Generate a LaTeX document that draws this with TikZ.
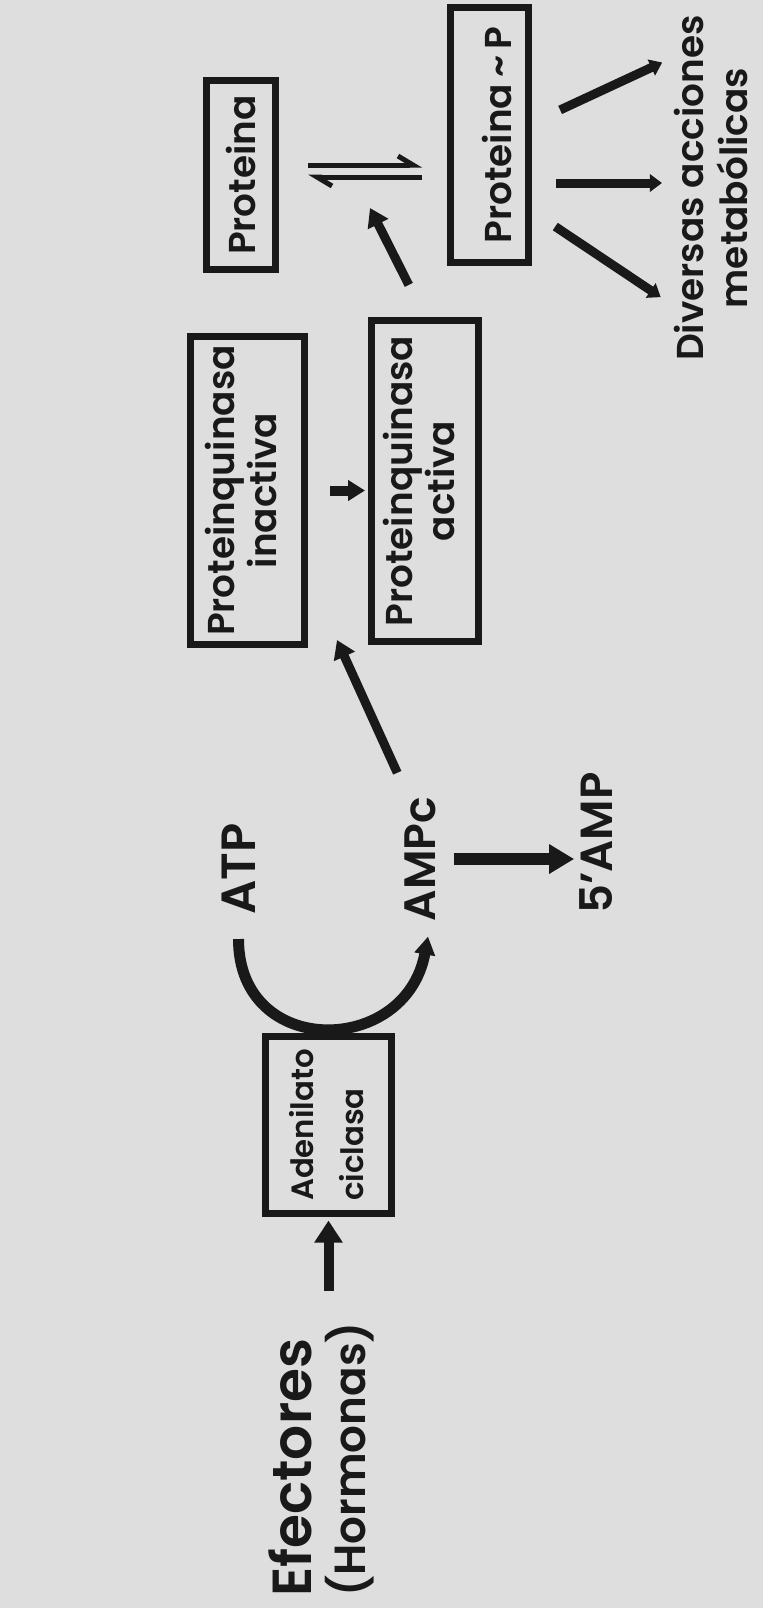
\documentclass[tikz,border=0pt]{standalone}
\usepackage{fontspec}
\setmainfont{Poppins SemiBold}
\usepackage{graphicx}
\usepackage{tikz}
\usetikzlibrary{arrows.meta,calc}
\definecolor{papel}{gray}{0.87}
\definecolor{tinta}{gray}{0.1}

\begin{document}
\begin{tikzpicture}[x=0.5pt, y=-0.5pt,
  caja/.style={draw=tinta, line width=3.5pt, inner sep=0pt, text=tinta},
  rotulo/.style={inner sep=0pt, text=tinta},
  arpon/.style={draw=tinta, line width=2.5pt, -{Straight Barb[left, length=7.5pt, width=9pt]}},
  gruesa/.style={draw=tinta, line width=4.5pt, -{Triangle[length=9pt, width=11pt]}},
  fina/.style={draw=tinta, line width=4.5pt, -{Triangle[length=6pt, width=8.5pt]}}]
\fill[papel] (0,0) rectangle (763,1608);
\useasboundingbox (0,0) rectangle (763,1608);

\node[caja, minimum width=34.5pt, minimum height=94.5pt, font=\fontsize{18.7}{21}\selectfont] (prot) at (241,175) {\rotatebox{90}{Proteina}};
\node[caja, minimum width=39pt, minimum height=127.5pt, font=\fontsize{18.7}{21}\selectfont] (protp) at (489.5,135) {\rotatebox{90}{\raisebox{-3.75pt}[\height][\depth]{Proteina\,\textasciitilde\,P}}};
\node[rotulo, font=\fontsize{18.7}{21}\selectfont] (div) at (717,188) {\rotatebox{90}{\begin{tabular}{@{}c@{}}Diversas acciones\\metabólicas\end{tabular}}};
\node[caja, minimum width=57pt, minimum height=154pt, font=\fontsize{18.7}{21}\selectfont] (pkin) at (247.5,490.5) {\rotatebox{90}{\begin{tabular}{@{}c@{}}Proteinquinasa\\inactiva\end{tabular}}};
\node[caja, minimum width=53.5pt, minimum height=160.5pt, font=\fontsize{18.7}{21}\selectfont] (pkac) at (425,481) {\rotatebox{90}{\begin{tabular}{@{}c@{}}Proteinquinasa\\activa\end{tabular}}};
\node[rotulo, font=\fontsize{24}{26}\selectfont] (atp) at (238.5,869) {\rotatebox{90}{ATP}};
\node[rotulo, font=\fontsize{22}{24}\selectfont] (ampc) at (420,859) {\rotatebox{90}{AMPc}};
\node[rotulo, font=\fontsize{22.5}{24}\selectfont] (amp5) at (596,843) {\rotatebox{90}{5'AMP}};
\node[caja, minimum width=63pt, minimum height=88.5pt, font=\fontsize{15.4}{25}\selectfont] (adc) at (328.5,1125) {\rotatebox{90}{\begin{tabular}{@{}l@{}}Adenilato\\ciclasa\end{tabular}}};
\node[rotulo, anchor=south, font=\fontsize{21.8}{23}\selectfont] (efec) at (323.5,1597) {\rotatebox{90}{\begin{tabular}{@{}l@{}}{\fontsize{27.5}{28}\selectfont Efectores}\\(Hormonas)\end{tabular}}};

\coordinate (cat) at (370,208);
\coordinate (kin) at (337,640);

% Proteina <=> Proteina~P
\draw[arpon, shorten <=14.5pt, shorten >=12.5pt] ([yshift=5pt]prot.east) -- ([yshift=5pt]prot.east -| protp.west);
\draw[arpon, shorten <=12.5pt, shorten >=14.5pt] ([yshift=-1pt]prot.east -| protp.west) -- ([yshift=-1pt]prot.east);
\draw[gruesa, shorten <=18pt] (pkac.north) -- (cat);

% acciones
\draw[fina, shorten <=15.5pt, shorten >=6.5pt] ($(protp.east)+(0,-12)$) -- ($(div.west)+(0,-131)$);
\draw[fina, shorten <=12pt, shorten >=6pt] ($(protp.east)+(0,48)$) -- ($(div.west)+(0,-5)$);
\draw[fina, shorten <=14pt, shorten >=8pt] ($(protp.east)+(0,76)$) -- ($(div.west)+(0,118)$);

\draw[draw=tinta, line width=5pt, -{Triangle[length=8.5pt, width=10pt]}, shorten <=11pt, shorten >=1.5pt] (pkin.east) -- (pkin.east -| pkac.west);
\draw[gruesa, shorten <=13pt] ([xshift=-6pt]ampc.north) -- (kin);
\draw[draw=tinta, line width=6pt, -{Triangle[length=12.5pt, width=14pt]}, shorten <=9pt, shorten >=2.5pt] (ampc.east) -- (ampc.east -| amp5.west);
\draw[draw=tinta, line width=5.5pt, -{Triangle[length=9pt, width=10pt]}] ([yshift=-12pt]atp.south) .. controls +(0,120) and +(-22,120) .. ([xshift=4pt, yshift=-7.5pt]ampc.south);
\draw[draw=tinta, line width=5pt, -{Triangle[length=11pt, width=13.5pt]}, shorten <=15.5pt, shorten >=1.75pt] (adc.south |- efec.north) -- (adc.south);
\end{tikzpicture}
\end{document}
